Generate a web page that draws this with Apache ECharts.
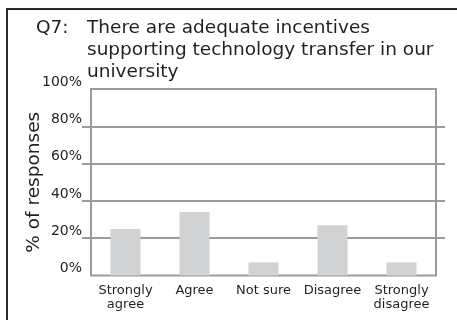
<!DOCTYPE html>
<html>
<head>
<meta charset="utf-8">
<script src="https://cdn.jsdelivr.net/npm/echarts@6/dist/echarts.min.js"></script>
<style>
  html, body { margin: 0; padding: 0; background: #fff; }
  #chart { width: 457px; height: 320px; }
</style>
</head>
<body>
<div id="chart"></div>
<script>
// Survey question and response breakdown
const questionLabel = 'Q7:';
const questionText = 'There are adequate incentives\nsupporting technology transfer in our\nuniversity';
const categories = ['Strongly\nagree', 'Agree', 'Not sure', 'Disagree', 'Strongly\ndisagree'];
const responses = [25, 34, 7, 27, 7]; // percent of responses
const yTicks = [0, 20, 40, 60, 80, 100];

const FONT = 'DejaVu Sans';
const INK = '#231f20';
const RULE = '#9b9b9d';

const chart = echarts.init(document.getElementById('chart'), null, { renderer: 'canvas' });

chart.setOption({
  animation: false,
  backgroundColor: '#fff',
  graphic: [{
    // panel frame (top and left edges)
    type: 'rect',
    shape: { x: 7, y: 9, width: 520, height: 400 },
    style: { fill: 'none', stroke: '#2b2b2b', lineWidth: 2 },
    silent: true
  }],
  title: [
    { text: questionLabel, left: 36, top: 17, padding: 0,
      textStyle: { fontFamily: FONT, fontSize: 18.5, fontWeight: 'normal', color: INK, lineHeight: 22 } },
    { text: questionText, left: 87, top: 17, padding: 0,
      textStyle: { fontFamily: FONT, fontSize: 18.5, fontWeight: 'normal', color: INK, lineHeight: 22 } }
  ],
  grid: [
    // plot box
    { left: 91, right: 21, top: 89, bottom: 44.5, show: true, borderColor: RULE, borderWidth: 2,
      backgroundColor: 'transparent' },
    // wider band carrying the gridlines and tick labels
    { left: 82, right: 12, top: 89, bottom: 44.5 }
  ],
  xAxis: [
    { type: 'category', gridIndex: 0, data: categories,
      axisLine: { show: false }, axisTick: { show: false },
      axisLabel: { fontFamily: FONT, fontSize: 13, color: INK, lineHeight: 14, margin: 8, interval: 0 } },
    { type: 'value', gridIndex: 1, show: false }
  ],
  yAxis: [
    { type: 'value', gridIndex: 0, min: 0, max: 100, interval: 20, show: false, splitLine: { show: false } },
    { type: 'value', gridIndex: 1, min: 0, max: 100, interval: 20,
      name: '% of responses', nameLocation: 'middle', nameGap: 38, nameMoveOverlap: false,
      nameTextStyle: { fontFamily: FONT, fontSize: 18.5, color: INK },
      axisLine: { show: false }, axisTick: { show: false },
      axisLabel: { fontFamily: FONT, fontSize: 14, color: INK, margin: 0, verticalAlign: 'bottom',
        formatter: v => yTicks.includes(v) ? v + '%' : '' },
      splitLine: { show: true, showMinLine: false, showMaxLine: false, lineStyle: { color: RULE, width: 2 } } }
  ],
  series: [{
    type: 'bar',
    xAxisIndex: 0, yAxisIndex: 0,
    data: responses,
    barWidth: 30,
    itemStyle: { color: '#d1d2d4' },
    z: 3
  }]
});
</script>
</body>
</html>
